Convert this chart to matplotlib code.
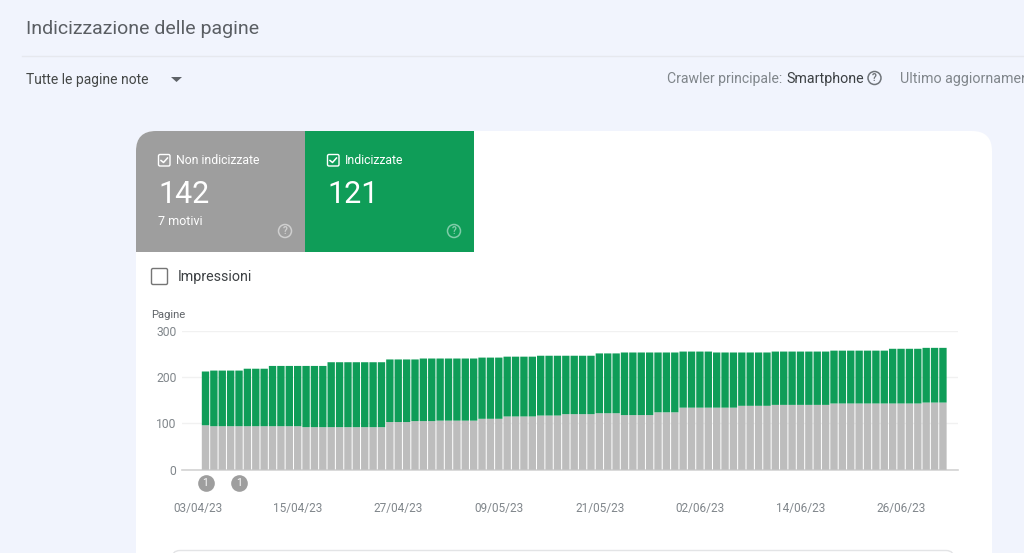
#!/usr/bin/env python
import matplotlib
matplotlib.use("Agg")
import matplotlib.pyplot as plt
from matplotlib.patches import FancyBboxPatch, Rectangle, Circle, Polygon
from matplotlib.transforms import ScaledTranslation

W, H = 1024, 553

# ===== data
non_indicizzate = [96] + [94] * 11 + [92] * 10 + [103] * 3 + [105] * 3 + [106] * 5 \
    + [110] * 3 + [115] * 4 + [117] * 3 + [120] * 4 + [122] * 3 + [118] * 4 + [124] * 3 \
    + [134] * 7 + [138] * 4 + [140] * 7 + [143] * 11 + [145] * 3
totale = [212] + [214] * 4 + [218] * 3 + [224] * 7 + [232] * 7 + [238] * 4 + [240] * 7 \
    + [242] * 3 + [244] * 4 + [246] * 7 + [251] * 3 + [253] * 7 + [255] * 4 + [253] * 7 \
    + [255] * 7 + [257] * 7 + [261] * 4 + [263] * 3
date_ticks = [0, 12, 24, 36, 48, 60, 72, 84]
date_labels = ["03/04/23", "15/04/23", "27/04/23", "09/05/23",
               "21/05/23", "02/06/23", "14/06/23", "26/06/23"]
y_ticks = [0, 100, 200, 300]
event_pos = [0, 4]

BG = "#f1f4fd"
GREEN = "#0f9d58"
GREY_TILE = "#9e9e9e"
GREY_BAR = "#bdbdbd"

plt.rcParams["font.family"] = ["Roboto", "DejaVu Sans"]

fig = plt.figure(figsize=(W / 100, H / 100), dpi=100, facecolor=BG)

# ===== page, in pixel coordinates
page = fig.add_axes([0, 0, 1, 1])
page.set_xlim(0, W)
page.set_ylim(H, 0)
page.axis("off")


def rounded(x, y, w, h, r, **kw):
    p = FancyBboxPatch((x + r, y + r), w - 2 * r, h - 2 * r,
                       boxstyle="round,pad=%g,rounding_size=%g" % (r, r), **kw)
    page.add_patch(p)
    return p


def checkbox(x, y, size, edge, face="none", tick=True):
    rounded(x, y, size, size, 1.5, fc=face, ec=edge, lw=1.0)
    if tick:
        page.plot([x + 2.5, x + 5, x + size - 2.5], [y + size * 0.52, y + size - 3.5, y + 3.5],
                  color="white", lw=1.1)


def help_icon(x, y, r, color):
    page.add_patch(Circle((x, y), r, fc="none", ec=color, lw=1.1))
    page.text(x, y + 0.3, "?", color=color, fontsize=7, ha="center", va="center", weight="bold")


# header
page.text(26, 28.5, "Indicizzazione delle pagine", fontsize=14, color="#5a5e63", va="center")
page.plot([22, W], [55.5, 55.5], color="#e6e8ee", lw=1)
page.text(26, 80, "Tutte le pagine note", fontsize=10, color="#444746", va="center")
page.add_patch(Polygon([[171, 77], [182, 77], [176.5, 82]], fc="#5f6368", ec="none"))
page.text(667, 78.5, "Crawler principale:", fontsize=10.1, color="#80868b", va="center")
page.text(786, 78.5, "Smartphone", fontsize=10.3, color="#3c4043", va="center")
help_icon(874.5, 78, 6.5, "#70757a")
# runs off the right edge in the reference too
page.text(900, 78.5, "Ultimo aggiornamento", fontsize=10.3, color="#80868b", va="center", clip_on=True)

# card and tiles
rounded(136, 131, 856, 600, 20, fc="white", ec="none")
tile = rounded(136, 131, 300, 200, 20, fc=GREY_TILE, ec="none")
tile.set_clip_path(Rectangle((136, 131), 169, 120.5, transform=page.transData))
page.add_patch(Rectangle((305, 131), 169, 120.5, fc=GREEN, ec="none"))

checkbox(158.5, 154.5, 11.5, "white")
page.text(176, 161, "Non indicizzate", fontsize=8.8, color="white", va="center")
page.text(158.5, 194.5, "142", fontsize=22, color="white", va="center")
page.text(158, 221.5, "7 motivi", fontsize=9, color="white", va="center")
help_icon(285, 231, 6.5, "#cfcfcf")

checkbox(327.5, 154.5, 11.5, "white")
page.text(345, 161, "Indicizzate", fontsize=8.8, color="white", va="center")
page.text(327, 194.5, "121", fontsize=22, color="white", va="center")
help_icon(454, 231, 6.5, "#7fcca8")

checkbox(151.5, 268.5, 16, "#757575", tick=False)
page.text(178, 276.5, "Impressioni", fontsize=10.3, color="#3c4043", va="center")
page.text(151, 315, "Pagine", fontsize=8.1, color="#5f6368", va="center")

rounded(172, 550.5, 782, 40, 8, fc="white", ec="#e3e4e6", lw=1)

# ===== chart
left, right, top, bottom = 182, 958, 330.7, 469.8
ax = fig.add_axes([left / W, 1 - bottom / H, (right - left) / W, (bottom - top) / H])
ax.patch.set_alpha(0)
pitch = 8.38
ax.set_xlim((left - 205.5) / pitch, (right - 205.5) / pitch)
ax.set_ylim(0, 300)

xs = list(range(len(totale)))
indicizzate = [t - n for t, n in zip(totale, non_indicizzate)]
# no pixel snapping, it makes the gaps between the bars uneven
ax.bar(xs, non_indicizzate, width=0.88, color=GREY_BAR, zorder=3, snap=False)
ax.bar(xs, indicizzate, bottom=non_indicizzate, width=0.88, color=GREEN, zorder=3, snap=False)

ax.set_yticks(y_ticks)
ax.grid(axis="y", color="#f1f1f1", lw=1, zorder=0)
ax.set_xticks(date_ticks)
ax.set_xticklabels(date_labels)
ax.tick_params(axis="both", length=0, labelsize=8.5, labelcolor="#80868b")
ax.tick_params(axis="x", pad=23)
ax.tick_params(axis="y", pad=4, labelsize=8.7)
shift = ScaledTranslation(-8 / 100, 0, fig.dpi_scale_trans)
for lab in ax.get_xticklabels():
    lab.set_transform(lab.get_transform() + shift)
for name in ["top", "left", "right"]:
    ax.spines[name].set_visible(False)
ax.spines["bottom"].set_color("#d3d3d3")
ax.spines["bottom"].set_linewidth(1.2)

# annotation pins below the axis
ax.plot(event_pos, [-29] * len(event_pos), "o", ms=12, color=GREY_TILE, mec="none", clip_on=False, zorder=4)
for p in event_pos:
    ax.text(p, -29, "1", color="white", fontsize=7.5, ha="center", va="center", zorder=5, clip_on=False)

fig.savefig("out.png", dpi=100, facecolor=BG)
